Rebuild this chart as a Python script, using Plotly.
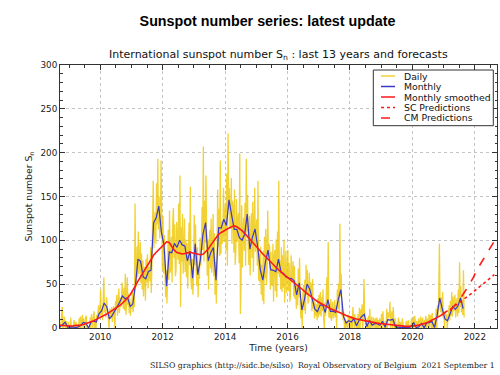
import plotly.graph_objects as go

# ---------------------------------------------------------------------------
# International sunspot number, Sep 2008 - Aug 2021, plus forecasts
# ---------------------------------------------------------------------------
START_YEAR, START_MONTH = 2008, 9

# daily values, four samples per month (Sep 2008 onwards)
daily_2008 = [0, 0, 0, 5, 12, 24, 0, 0, 13, 9, 0, 8, 0, 0, 7, 0]
daily_2009 = [0, 0, 12, 0, 0, 0, 0, 9, 0, 0, 7, 0, 0, 0, 0, 11,
              0, 13, 0, 7, 15, 0, 11, 0, 0, 12, 14, 0, 0, 0, 0, 0,
              12, 0, 16, 8, 0, 14, 19, 0, 9, 0, 15, 11, 18, 26, 12, 15]
daily_2010 = [44, 14, 22, 9, 33, 58, 18, 21, 12, 35, 27, 18, 9, 0, 22, 13,
              11, 24, 7, 16, 25, 12, 0, 31, 21, 38, 14, 30, 45, 17, 35, 24,
              26, 52, 41, 22, 46, 20, 62, 15, 31, 58, 26, 39, 17, 34, 14, 29]
daily_2011 = [22, 41, 18, 30, 24, 142, 55, 47, 93, 58, 110, 62, 72, 98, 51, 85,
              44, 77, 36, 70, 60, 31, 79, 52, 84, 45, 70, 57, 53, 92, 40, 77,
              106, 168, 91, 124, 132, 96, 165, 118, 193, 112, 150, 102, 118, 191, 74, 66]
daily_2012 = [128, 62, 106, 81, 35, 66, 28, 58, 112, 55, 134, 63, 68, 104, 52, 122,
              137, 80, 118, 59, 66, 121, 96, 78, 142, 73, 174, 24, 115, 76, 130, 62,
              88, 125, 64, 101, 58, 97, 45, 110, 120, 72, 161, 54, 44, 79, 38, 66]
daily_2013 = [129, 72, 118, 65, 48, 92, 35, 70, 56, 103, 71, 86, 138, 89, 207, 76,
              145, 97, 174, 108, 60, 101, 44, 96, 112, 68, 125, 63, 77, 130, 59, 108,
              38, 75, 28, 70, 158, 93, 136, 82, 191, 84, 122, 96, 107, 160, 98, 132]
daily_2014 = [142, 88, 176, 71, 222, 135, 160, 113, 118, 171, 96, 145, 137, 86, 158, 72,
              89, 147, 98, 120, 131, 74, 199, 16, 54, 140, 69, 110, 126, 88, 143, 71,
              193, 110, 152, 95, 72, 128, 60, 104, 131, 80, 144, 64, 95, 160, 87, 118]
daily_2015 = [124, 71, 168, 54, 85, 52, 93, 38, 72, 31, 88, 27, 104, 57, 113, 49,
              66, 134, 81, 96, 92, 44, 87, 51, 48, 96, 30, 81, 89, 42, 101, 35,
              110, 62, 168, 58, 77, 44, 92, 41, 83, 46, 101, 29, 61, 88, 40, 75]
daily_2016 = [89, 42, 74, 30, 38, 83, 52, 61, 76, 36, 71, 33, 54, 22, 49, 26,
              68, 35, 80, 29, 11, 30, 0, 37, 49, 20, 55, 16, 72, 38, 66, 28,
              31, 63, 39, 52, 48, 19, 56, 22, 33, 11, 29, 14, 27, 9, 34, 12]
daily_2017 = [38, 15, 41, 13, 35, 19, 44, 11, 0, 29, 14, 37, 58, 24, 98, 12,
              27, 11, 33, 8, 24, 30, 11, 17, 32, 12, 26, 0, 44, 22, 51, 19,
              119, 36, 62, 14, 22, 9, 18, 0, 11, 0, 8, 0, 0, 15, 13, 0]
daily_2018 = [12, 0, 14, 0, 24, 11, 0, 16, 0, 0, 12, 0, 16, 0, 23, 0,
              21, 8, 27, 0, 13, 56, 18, 0, 0, 0, 11, 0, 14, 0, 22, 0,
              0, 13, 0, 0, 12, 0, 0, 11, 0, 12, 0, 9, 0, 11, 0, 0]
daily_2019 = [16, 0, 19, 0, 0, 0, 8, 0, 22, 0, 18, 12, 14, 30, 0, 11,
              19, 0, 24, 7, 0, 11, 0, 0, 0, 0, 12, 0, 0, 7, 0, 0,
              11, 0, 0, 0, 0, 0, 8, 0, 0, 9, 0, 0, 0, 0, 11, 0]
daily_2020 = [0, 13, 0, 14, 0, 0, 8, 0, 0, 11, 0, 0, 13, 0, 0, 12,
              0, 0, 9, 0, 14, 0, 11, 0, 0, 16, 0, 12, 15, 0, 17, 0,
              0, 0, 11, 0, 22, 0, 26, 13, 38, 96, 22, 18, 35, 16, 41, 11]
daily_2021 = [14, 0, 19, 12, 16, 0, 13, 11, 26, 9, 31, 14, 41, 13, 36, 19,
              29, 38, 12, 24, 34, 13, 44, 17, 75, 24, 48, 18, 31, 15, 66, 12]

daily_by_year = [
    (2008, daily_2008), (2009, daily_2009), (2010, daily_2010), (2011, daily_2011),
    (2012, daily_2012), (2013, daily_2013), (2014, daily_2014), (2015, daily_2015),
    (2016, daily_2016), (2017, daily_2017), (2018, daily_2018), (2019, daily_2019),
    (2020, daily_2020), (2021, daily_2021),
]

# monthly mean sunspot number, Sep 2008 - Aug 2021
monthly_sn = [
    1.2, 4.2, 6.6, 1.0,
    1.3, 1.2, 0.6, 1.2, 2.9, 6.3, 5.5, 0.0, 7.1, 7.7, 6.9, 16.3,
    19.6, 28.5, 24.0, 10.4, 13.9, 18.8, 25.2, 29.6, 36.4, 33.6, 34.4, 24.5,
    27.3, 48.3, 78.6, 76.1, 58.2, 56.1, 64.5, 65.8, 120.1, 125.7, 139.1, 109.3,
    94.4, 47.8, 86.6, 85.9, 96.5, 92.0, 100.1, 94.8, 93.7, 76.5, 87.6, 56.8,
    96.1, 60.9, 78.3, 107.3, 120.2, 76.7, 86.2, 91.8, 54.5, 114.4, 113.9, 124.2,
    117.0, 146.1, 128.7, 112.5, 112.5, 102.9, 100.2, 106.9, 130.0, 90.0, 103.6, 112.9,
    93.0, 66.7, 54.5, 75.3, 88.8, 66.5, 65.8, 64.4, 78.6, 63.6, 62.2, 58.0,
    57.0, 56.4, 54.1, 37.9, 51.5, 20.5, 32.4, 50.2, 44.6, 33.4, 21.4, 18.5,
    26.1, 26.4, 17.7, 32.3, 18.9, 19.2, 17.8, 32.6, 43.7, 13.2, 5.7, 8.2,
    6.8, 10.7, 2.5, 8.9, 13.1, 15.6, 1.6, 8.7, 3.3, 4.9, 4.9, 3.1,
    7.7, 0.8, 9.4, 9.1, 9.9, 1.2, 0.9, 0.5, 1.1, 0.4, 0.5, 1.5,
    6.2, 0.2, 1.5, 5.2, 0.2, 5.8, 6.1, 7.5, 0.6, 14.4, 34.0, 21.8,
    10.4, 8.2, 17.2, 24.5, 21.2, 25.0, 34.3, 22.0,
]

# 13-month smoothed monthly sunspot number, Sep 2008 - Feb 2021
smoothed_sn = [
    3.2, 2.9, 2.5, 2.2,
    2.3, 2.5, 2.6, 2.8, 3.3, 3.9, 4.8, 5.8, 7.0, 8.3, 9.8, 11.2,
    12.6, 14.3, 16.0, 17.8, 19.6, 21.5, 23.5, 25.7, 28.2, 31.0, 34.2, 38.0,
    42.6, 48.0, 53.5, 58.5, 63.5, 68.5, 73.5, 78.5, 83.0, 86.5, 89.5, 92.5,
    95.5, 98.3, 97.5, 93.5, 88.5, 86.0, 85.0, 84.5, 85.0, 86.0, 86.5, 85.5,
    85.0, 84.0, 83.5, 84.0, 86.5, 90.0, 94.5, 99.0, 103.5, 107.0, 109.0, 111.0,
    112.5, 114.0, 115.5, 116.4, 115.5, 113.5, 111.0, 108.0, 104.5, 101.0, 97.5, 94.0,
    91.2, 87.9, 84.4, 81.5, 78.8, 75.6, 72.4, 69.3, 66.4, 63.8, 61.2, 58.9,
    56.6, 54.5, 52.2, 49.6, 47.1, 44.5, 41.8, 39.2, 36.8, 34.6, 32.3, 30.2,
    28.5, 26.6, 24.9, 23.3, 22.0, 20.9, 19.8, 18.6, 17.2, 15.7, 14.3, 13.0,
    11.9, 11.0, 10.3, 9.6, 8.9, 8.2, 7.6, 7.1, 6.6, 6.1, 5.6, 5.2,
    4.8, 4.4, 4.0, 3.7, 3.4, 3.1, 2.8, 2.5, 2.2, 1.9, 1.8, 1.9,
    2.2, 2.7, 3.3, 4.1, 5.0, 6.1, 7.4, 8.7, 10.2, 11.8, 13.5, 15.4,
    17.5, 19.8,
]

# forecasts, Mar 2021 - Aug 2022
PRED_YEAR, PRED_MONTH = 2021, 3
sc_pred = [21.0, 23.2, 25.1, 27.3, 29.6, 31.8, 34.0, 36.5, 38.9,
           41.2, 43.8, 46.1, 48.7, 51.0, 53.6, 55.9, 58.5, 60.8]
cm_pred = [20.0, 23.0, 26.0, 30.0, 34.0, 38.0, 43.0, 48.0, 53.0,
           58.0, 65.0, 70.0, 75.0, 80.0, 85.0, 89.0, 94.0, 99.0]

x_ticks = [2010, 2012, 2014, 2016, 2018, 2020, 2022]
y_ticks = [0, 50, 100, 150, 200, 250, 300]

legend_labels = ["Daily", "Monthly", "Monthly smoothed", "SC Predictions", "CM Predictions"]

# colours / styles
C_DAILY = "rgba(238,198,0,0.8)"
C_MONTH = "#3a3ac8"
C_SMOOTH = "#ff1a1a"
FONT = "DejaVu Sans"


def month_series(year, month, n):
    """Decimal-year centres of n consecutive months."""
    out = []
    for i in range(n):
        m = month - 1 + i
        out.append(year + m // 12 + ((m % 12) + 0.5) / 12.0)
    return out


# daily sample times
daily_t, daily_v = [], []
for yr, vals in daily_by_year:
    first_month = START_MONTH if yr == START_YEAR else 1
    for i, v in enumerate(vals):
        month = first_month + i // 4
        daily_t.append(yr + (month - 1) / 12.0 + (i % 4 + 0.5) / 48.0)
        daily_v.append(v)

month_t = month_series(START_YEAR, START_MONTH, len(monthly_sn))
smooth_t = month_series(START_YEAR, START_MONTH, len(smoothed_sn))
pred_t = month_series(PRED_YEAR, PRED_MONTH, len(sc_pred))

fig = go.Figure()
fig.add_trace(go.Scatter(x=daily_t, y=daily_v, mode="lines", name=legend_labels[0],
                         line=dict(color=C_DAILY, width=1.3), showlegend=False))
fig.add_trace(go.Scatter(x=month_t, y=monthly_sn, mode="lines", name=legend_labels[1],
                         line=dict(color=C_MONTH, width=1.2), showlegend=False))
fig.add_trace(go.Scatter(x=smooth_t, y=smoothed_sn, mode="lines", name=legend_labels[2],
                         line=dict(color=C_SMOOTH, width=1.6), showlegend=False))
fig.add_trace(go.Scatter(x=pred_t, y=sc_pred, mode="lines", name=legend_labels[3],
                         line=dict(color=C_SMOOTH, width=1.6, dash="dot"), showlegend=False))
fig.add_trace(go.Scatter(x=pred_t, y=cm_pred, mode="lines", name=legend_labels[4],
                         line=dict(color=C_SMOOTH, width=1.6, dash="dash"), showlegend=False))

# plot area geometry (pixels)
ML, MR, MT, MB = 60, 3, 65, 47
W, H = 500, 375
PW, PH = W - ML - MR, H - MT - MB


def fx(px):
    return (px - ML) / PW


def fy(py):
    return (H - MB - py) / PH


axis_common = dict(
    showline=True, linecolor="#333", linewidth=1, mirror="allticks",
    ticks="inside", ticklen=5, tickcolor="#333", tickwidth=1,
    showgrid=True, gridcolor="#c4c4c4", griddash="dot", gridwidth=1,
    zeroline=False,
    tickfont=dict(family=FONT, size=8.8, color="#222"),
)

fig.update_layout(
    template="none",
    width=W, height=H,
    margin=dict(l=ML, r=MR, t=MT, b=MB, pad=0),
    paper_bgcolor="white", plot_bgcolor="white",
    font=dict(family=FONT, color="#222"),
    title=dict(text="<b>Sunspot number series: latest update</b>",
               font=dict(family="Liberation Sans", size=14.3, color="#000"),
               x=0.535, xanchor="center", xref="container",
               y=1 - 21 / H, yanchor="middle", yref="container"),
    xaxis=dict(range=[2008.71, 2022.71], tickmode="array", tickvals=x_ticks,
               ticktext=[str(v) for v in x_ticks],
               title=dict(text="Time (years)", font=dict(family=FONT, size=9.3, color="#222"),
                          standoff=2),
               minor=dict(ticks="inside", ticklen=2.5, tickcolor="#333", dtick=0.5,
                          tick0=2010, showgrid=False),
               automargin=False, **axis_common),
    yaxis=dict(range=[0, 300], tickmode="array", tickvals=y_ticks,
               ticktext=[str(v) for v in y_ticks],
               title=dict(text="Sunspot number S<sub>n</sub>",
                          font=dict(family=FONT, size=9.3, color="#222"), standoff=6),
               minor=dict(ticks="inside", ticklen=2.5, tickcolor="#333", dtick=10,
                          tick0=0, showgrid=False),
               automargin=False, **axis_common),
    showlegend=False,
)

# subtitle
fig.add_annotation(text="International sunspot number S<sub>n</sub> : last 13 years and forecasts",
                   xref="paper", yref="paper", x=0.5, y=1, xanchor="center", yanchor="bottom",
                   yshift=1, showarrow=False,
                   font=dict(family=FONT, size=11, color="#111"))

# credit line
fig.add_annotation(text="SILSO graphics (http://sidc.be/silso)&nbsp; Royal Observatory of Belgium&nbsp; 2021 September 1",
                   xref="paper", yref="paper", x=1, y=0, xanchor="right", yanchor="middle",
                   xshift=0, yshift=-(365.7 - (H - MB)), showarrow=False,
                   font=dict(family="DejaVu Serif", size=7.8, color="#222"))

# legend box
box_x0, box_x1, box_y0, box_y1 = 373.3, 493.3, 70, 125.7
fig.add_shape(type="rect", xref="paper", yref="paper",
              x0=fx(box_x0), x1=fx(box_x1), y0=fy(box_y1), y1=fy(box_y0),
              line=dict(color="#333", width=1), fillcolor="white", layer="above")
row_y = [76, 86.5, 97, 107.5, 118]
styles = [(C_DAILY, "solid"), (C_MONTH, "solid"), (C_SMOOTH, "solid"),
          (C_SMOOTH, "dot"), (C_SMOOTH, "dash")]
for label, yy, (col, dash) in zip(legend_labels, row_y, styles):
    fig.add_shape(type="line", xref="paper", yref="paper",
                  x0=fx(381), x1=fx(395), y0=fy(yy), y1=fy(yy),
                  line=dict(color=col, width=1.5, dash=dash), layer="above")
    fig.add_annotation(text=label, xref="paper", yref="paper",
                       x=fx(402), y=fy(yy), xanchor="left", yanchor="middle",
                       showarrow=False, font=dict(family=FONT, size=9.3, color="#111"))

fig.write_html("out.html")
